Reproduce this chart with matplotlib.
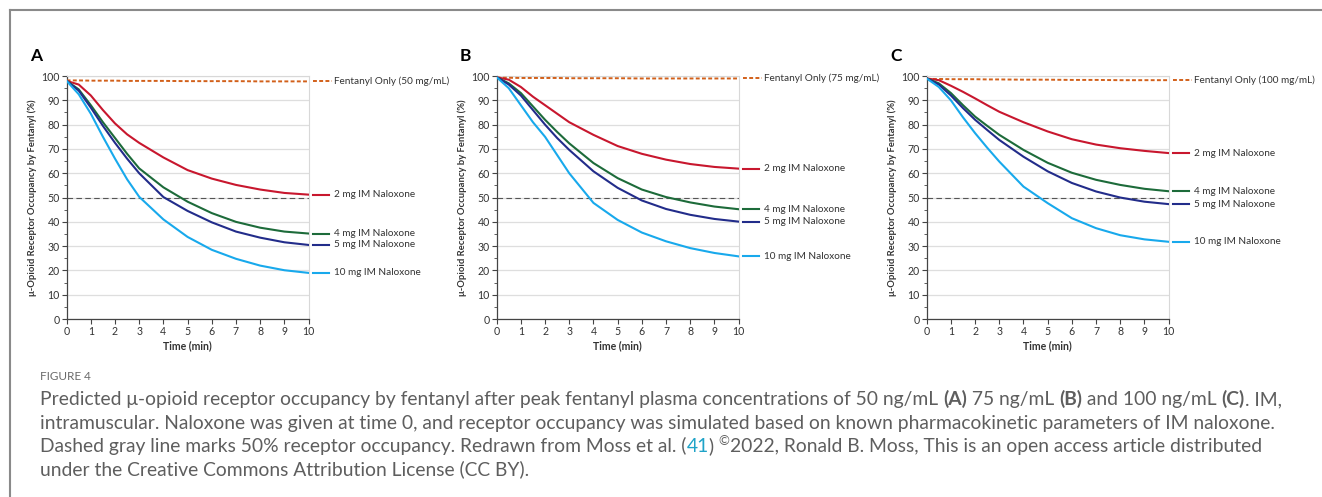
import matplotlib
matplotlib.use("Agg")
import matplotlib.pyplot as plt
from matplotlib.lines import Line2D
from matplotlib.ticker import MultipleLocator

plt.rcParams['font.family'] = ['Lato', 'DejaVu Sans']

# time points (min)
time = [0, 0.5, 1, 1.5, 2, 2.5, 3, 4, 5, 6, 7, 8, 9, 10]

# receptor occupancy (%) per panel
fent_a = [98.2, 98.2, 98.1, 98.1, 98.1, 98.0, 98.0, 98.0, 97.9, 97.9, 97.9, 97.8, 97.8, 97.8]
red_a = [98, 96.5, 92, 86, 80.5, 76, 72.5, 66.5, 61.3, 57.8, 55.2, 53.3, 51.9, 51.2]
green_a = [98, 94.5, 88, 81, 74.5, 68, 62, 54.2, 48.3, 43.6, 40, 37.6, 36, 35.2]
blue_a = [98, 94, 87, 79.5, 72.5, 66, 60, 50.2, 44.5, 39.8, 36, 33.5, 31.6, 30.5]
lblue_a = [98, 92.5, 84.5, 75, 66, 57.5, 50.3, 41, 33.8, 28.5, 24.8, 22, 20.1, 19]

fent_b = [99.3, 99.3, 99.2, 99.2, 99.2, 99.2, 99.1, 99.1, 99.1, 99.0, 99.0, 99.0, 99.0, 99.0]
red_b = [99.5, 98.5, 95.5, 91.5, 88, 84.5, 81, 75.8, 71.2, 68, 65.6, 63.8, 62.6, 61.9]
green_b = [99.5, 97, 93, 87.5, 82, 77, 72.3, 64.2, 58, 53.3, 50.2, 48, 46.3, 45.2]
blue_b = [99.5, 96.5, 92, 86, 80, 74.5, 69.6, 60.8, 54, 48.8, 45.3, 42.9, 41.2, 40.1]
lblue_b = [99.5, 95, 88, 81, 75, 67.5, 60, 47.8, 40.8, 35.6, 32, 29.2, 27.2, 25.8]

fent_c = [98.8, 98.8, 98.7, 98.7, 98.7, 98.6, 98.6, 98.5, 98.5, 98.4, 98.4, 98.3, 98.3, 98.3]
red_c = [99, 98.3, 96, 93.5, 90.8, 88, 85.3, 81, 77.2, 74, 71.8, 70.3, 69.2, 68.3]
green_c = [99, 97, 93, 88, 83.3, 79.5, 75.8, 69.6, 64.3, 60.2, 57.3, 55.2, 53.6, 52.6]
blue_c = [99, 96.5, 92, 86.8, 82, 77.8, 73.7, 66.8, 60.8, 56, 52.5, 50, 48.3, 47.3]
lblue_c = [99, 95.5, 90, 83, 76.5, 70.5, 64.8, 54.5, 47.7, 41.5, 37.4, 34.5, 32.8, 31.8]

panels = [
    ("A", "Fentanyl Only (50 mg/mL)", fent_a, [red_a, green_a, blue_a, lblue_a]),
    ("B", "Fentanyl Only (75 mg/mL)", fent_b, [red_b, green_b, blue_b, lblue_b]),
    ("C", "Fentanyl Only (100 mg/mL)", fent_c, [red_c, green_c, blue_c, lblue_c]),
]
dose_labels = ["2 mg IM Naloxone", "4 mg IM Naloxone", "5 mg IM Naloxone", "10 mg IM Naloxone"]
dose_colors = ["#c8172e", "#1d6b3a", "#222c8a", "#18a9ec"]
fent_color = "#d2601a"
txt_color = "#333333"

fig = plt.figure(figsize=(13.22, 4.97), dpi=100)

lefts = [0.0504, 0.3757, 0.7010]
for (letter, fent_label, fent, doses), left in zip(panels, lefts):
    ax = fig.add_axes([left, 0.358, 0.183, 0.489])
    ax.set_xlim(0, 10)
    ax.set_ylim(0, 100)
    ax.yaxis.set_major_locator(MultipleLocator(10))
    ax.yaxis.set_minor_locator(MultipleLocator(5))
    ax.xaxis.set_major_locator(MultipleLocator(1))
    ax.grid(axis='y', color='#dedede', lw=0.9)
    ax.set_axisbelow(True)
    for s in ['top', 'right']:
        ax.spines[s].set_color('#d8d8d8')
    for s in ['left', 'bottom']:
        ax.spines[s].set_color('#444444')
        ax.spines[s].set_linewidth(0.9)
    ax.tick_params(axis='both', which='major', length=3.5, width=0.8, color='#444444',
                   labelsize=7.6, labelcolor=txt_color, pad=1.5)
    ax.tick_params(axis='y', which='minor', length=2, width=0.6, color='#444444')
    ax.set_xlabel("Time (min)", fontsize=7.6, fontweight='bold', color=txt_color, labelpad=2)
    ax.set_ylabel("μ-Opioid Receptor Occupancy by Fentanyl (%)", fontsize=6.8,
                  fontweight='bold', color=txt_color, labelpad=3)

    # 50% reference line
    ax.axhline(50, color='#555555', lw=0.8, dashes=(5, 3), zorder=2)

    ax.plot(time, fent, color=fent_color, lw=1.4, linestyle=(0, (2, 1.2)), zorder=3)
    ax.plot([10.2, 10.95], [fent[-1], fent[-1]], color=fent_color, lw=1.4,
            linestyle=(0, (2, 1.2)), clip_on=False)
    ax.text(11.05, fent[-1], fent_label, fontsize=7.2, color=txt_color, va='center')

    for vals, lab, col in zip(doses, dose_labels, dose_colors):
        ax.plot(time, vals, color=col, lw=1.5, zorder=4)
        ax.plot([10.2, 10.85], [vals[-1], vals[-1]], color=col, lw=1.5, clip_on=False)
        ax.text(11.05, vals[-1], lab, fontsize=7.2, color=txt_color, va='center')

    ax.text(-0.152, 1.05, letter, transform=ax.transAxes, fontsize=12.5,
            fontweight='bold', color='black', va='bottom', ha='left')

# outer frame (top and left edges)
fig.add_artist(Line2D([10 / 1322, 1], [1 - 10 / 497, 1 - 10 / 497], color='#8a8a8a', lw=1.5))
fig.add_artist(Line2D([10 / 1322, 10 / 1322], [0, 1 - 10 / 497], color='#8a8a8a', lw=1.5))

# caption
cap_color = '#5e5e5e'
fig.text(40 / 1322, 1 - 376 / 497, "FIGURE 4", fontsize=8.5, color='#6a6a6a', va='center')

renderer = fig.canvas.get_renderer()


def rich_line(x_px, y_px, parts):
    x = x_px / 1322
    for text, style in parts:
        kw = dict(fontsize=13.9, color=cap_color, va='baseline')
        kw.update(style)
        dy = kw.pop('dy', 0)
        t = fig.text(x, 1 - (y_px - dy) / 497, text, **kw)
        w = t.get_window_extent(renderer).width
        x += w / 1322


bold = {'fontweight': 'bold'}
base_y = [405, 428.5, 452, 475.5]
rich_line(40, base_y[0], [
    ("Predicted μ-opioid receptor occupancy by fentanyl after peak fentanyl plasma concentrations of 50 ng/mL ", {}),
    ("(A)", bold), (" 75 ng/mL ", {}), ("(B)", bold), (" and 100 ng/mL ", {}), ("(C)", bold), (". IM,", {}),
])
rich_line(40, base_y[1], [
    ("intramuscular. Naloxone was given at time 0, and receptor occupancy was simulated based on known pharmacokinetic parameters of IM naloxone.", {}),
])
rich_line(40, base_y[2], [
    ("Dashed gray line marks 50% receptor occupancy. Redrawn from Moss et al. (", {}),
    ("41", {'color': '#1fa3c8'}), (") ", {}), ("©", {'fontsize': 9.5, 'dy': 7}),
    ("2022, Ronald B. Moss, This is an open access article distributed", {}),
])
rich_line(40, base_y[3], [
    ("under the Creative Commons Attribution License (CC BY).", {}),
])

fig.savefig("out.png", dpi=100)
